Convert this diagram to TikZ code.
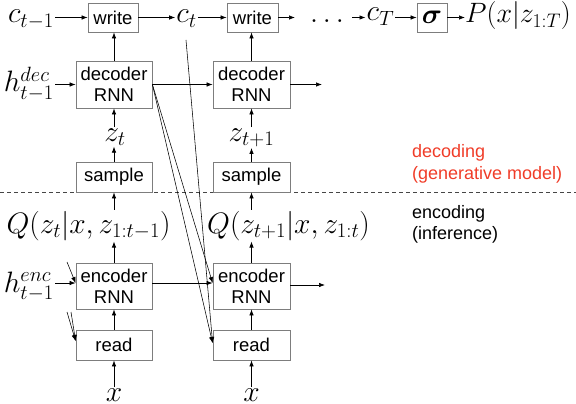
\RequirePackage{fix-cm}
\documentclass[tikz,border=0pt]{standalone}
\usepackage{amsmath}
\usepackage[no-math]{fontspec}
\setmainfont{Liberation Sans}
\usetikzlibrary{arrows.meta}
\definecolor{boxgray}{RGB}{125,125,125}
\definecolor{labred}{RGB}{240,60,40}
\definecolor{dashgray}{RGB}{70,70,70}
\begin{document}
\begin{tikzpicture}[x=1pt,y=-1pt,
  >={Latex[length=6pt,width=4.5pt]},
  box/.style={draw=boxgray, line width=0.8pt, fill=white, inner sep=0pt,
    font=\fontsize{18.5}{21}\selectfont, align=center},
  arr/.style={->, line width=0.7pt},
  diag/.style={->, line width=0.55pt},
  mlab/.style={inner sep=1pt, font=\fontsize{29.5}{31}\selectfont},
  sidetext/.style={anchor=base west, inner sep=0pt, font=\fontsize{18}{22}\selectfont}]
\useasboundingbox (0,0) rectangle (576,404);

% dashed separator
\draw[dashgray, line width=0.7pt, dash pattern=on 4pt off 3pt] (0,192) -- (576,192);

% boxes
\node[box, minimum width=50pt, minimum height=29pt] (w1) at (113,17.5) {write};
\node[box, minimum width=51pt, minimum height=29pt] (w2) at (252.5,17.5) {write};
\node[box, minimum width=30pt, minimum height=29pt, font=\fontsize{28}{30}\selectfont] (sig) at (432,17.5) {$\boldsymbol{\sigma}$};
\node[box, minimum width=76pt, minimum height=47pt] (d1) at (114,84.5) {decoder\\RNN};
\node[box, minimum width=77pt, minimum height=47pt] (d2) at (251.5,84.5) {decoder\\RNN};
\node[box, minimum width=76pt, minimum height=30pt] (s1) at (114,177) {sample};
\node[box, minimum width=77pt, minimum height=30pt] (s2) at (251.5,177) {sample};
\node[box, minimum width=76pt, minimum height=46pt] (e1) at (114,286) {encoder\\RNN};
\node[box, minimum width=77pt, minimum height=46pt] (e2) at (251.5,286) {encoder\\RNN};
\node[box, minimum width=76pt, minimum height=30pt] (r1) at (114,345) {read};
\node[box, minimum width=77pt, minimum height=30pt] (r2) at (251.5,345) {read};

% math labels
\node[mlab, anchor=base east] (cm1) at (55,23) {$c_{t-1}$};
\node[mlab, anchor=base] (ct) at (186.5,23) {$c_t$};
\node[mlab, anchor=base] (dots) at (327,23) {$\ldots$};
\node[mlab, anchor=base] (cT) at (380.5,21) {$c_T$};
\node[mlab, anchor=base west, inner sep=0pt, font=\fontsize{28}{30}\selectfont] (P) at (465,23) {$P(x|z_{1:T})$};
\node[mlab, anchor=base east] (hdec) at (55,92) {$h^{dec}_{t-1}$};
\node[mlab, anchor=base] (zt) at (115,141) {$z_t$};
\node[mlab, anchor=base] (zt1) at (251.5,141) {$z_{t+1}$};
\node[mlab, anchor=base] (q1) at (88.5,233) {$Q(z_t|x,z_{1:t-1})$};
\node[mlab, anchor=base] (q2) at (288.5,233) {$Q(z_{t+1}|x,z_{1:t})$};
\node[mlab, anchor=base east] (henc) at (55,292) {$h^{enc}_{t-1}$};
\node[mlab, anchor=base, inner sep=0pt] (x1) at (114,401) {$x$};
\node[mlab, anchor=base, inner sep=0pt] (x2) at (251.5,401) {$x$};

% side texts
\node[sidetext, text=labred] (tdec) at (412,157) {decoding};
\node[sidetext, text=labred] (tgen) at (412,179) {(generative model)};
\node[sidetext] (tenc) at (412,218) {encoding};
\node[sidetext] (tinf) at (412,239) {(inference)};

% free-end coordinates
\coordinate (w2out) at (295,17.5);
\coordinate (dotsout) at (352,17.5);
\coordinate (d2out) at (322,84.5);
\coordinate (e2out) at (325,285);
\coordinate (ctout) at (186,40);
\coordinate (e1in) at ([yshift=3pt]e1.west);
\coordinate (e2in) at ([yshift=3pt]e2.west);
\coordinate (r1in) at ([yshift=4pt]r1.west);
\coordinate (r2in) at ([yshift=2pt]r2.west);
\coordinate (pe1) at (67,262);
\coordinate (pr1a) at (67,312);
\coordinate (pr1b) at (71,312);

% top row
\draw[arr] (cm1.east |- w1.west) -- (w1.west);
\draw[arr] (w1.east) -- (ct.west |- w1.east);
\draw[arr] (ct.east |- w2.west) -- (w2.west);
\draw[arr] (w2.east) -- (w2out);
\draw[arr] (dotsout) -- (cT.west |- dotsout);
\draw[arr] (cT.east |- sig.west) -- (sig.west);
\draw[arr] (sig.east) -- (P.west |- sig.east);

% decoders
\draw[arr] (hdec.east |- d1.west) -- (d1.west);
\draw[arr] (d1.east) -- (d2.west);
\draw[arr] (d2.east) -- (d2out);
\draw[arr] (d1.north) -- (d1.north |- w1.south);
\draw[arr] (d2.north) -- (d2.north |- w2.south);

% z and sample
\draw[arr] (d1 |- zt.north) -- (d1.south);
\draw[arr] (d2 |- zt1.north) -- (d2.south);
\draw[arr] (s1.north) -- (s1 |- zt.south);
\draw[arr] (s2.north) -- (s2 |- zt1.south);

% Q
\draw[arr] (e1 |- q1.north) -- (s1.south);
\draw[arr] (e2 |- q2.north) -- (s2.south);
\draw[arr] (e1.north) -- (e1 |- q1.south);
\draw[arr] (e2.north) -- (e2 |- q2.south);

% encoders and reads
\draw[arr] (henc.east |- e1in) -- (e1in);
\draw[arr] ([yshift=3pt]e1.east) -- (e2in);
\draw[arr] ([yshift=1pt]e2.east) -- (e2out);
\draw[arr] (r1.north) -- (e1.south);
\draw[arr] (r2.north) -- (e2.south);
\draw[arr] ([yshift=1pt]r1 |- x1.north) -- (r1.south);
\draw[arr] ([yshift=1pt]r2 |- x2.north) -- (r2.south);

% diagonal connectors
\draw[diag] (d1.east) -- (e2in);
\draw[diag] (d1.east) -- (r2in);
\draw[diag] (ctout) -- (r2in);
\draw[diag] (pe1) -- (e1in);
\draw[diag] (pr1a) -- (r1in);
\draw[diag] (pr1b) -- (r1in);
\end{tikzpicture}
\end{document}
